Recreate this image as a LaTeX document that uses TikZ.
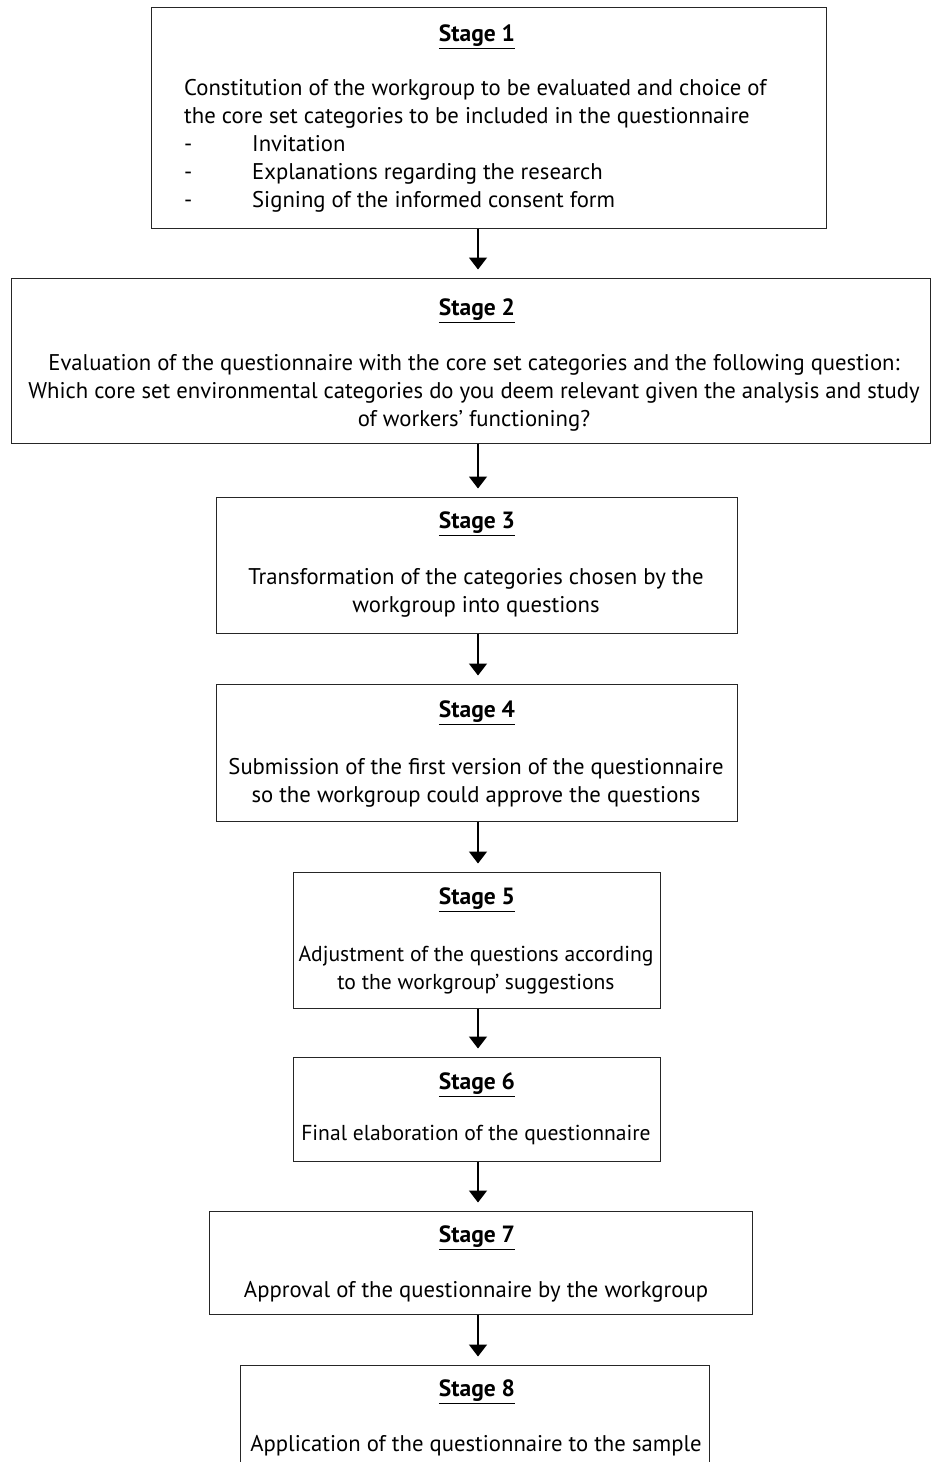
\documentclass[tikz,border=0pt]{standalone}
\usepackage{fontspec}
\setmainfont{PT Sans}
\usetikzlibrary{arrows.meta}
\tikzset{
  box/.style={draw=black!85, line width=1pt, rectangle, inner sep=0pt},
  ttl/.style={font=\fontsize{23.5}{28}\selectfont\bfseries, inner sep=0pt},
  body/.style={font=\fontsize{22.7}{28}\selectfont, align=center, inner sep=0pt},
  tight/.style={font=\fontsize{21.6}{28}\selectfont},
  arr/.style={line width=1.6pt, -{Triangle[width=18pt,length=12pt]}, shorten >=8pt},
}
\newcommand{\stg}[1]{\underline{#1}}
\begin{document}
\begin{tikzpicture}[x=1pt,y=-1pt]
\clip (0,0) rectangle (931,1462);
\fill[white] (0,0) rectangle (931,1462);
\coordinate (ax) at (478,0);
% boxes
\node[box, minimum width=675, minimum height=221] (s1) at (488.5,117.5) {};
\node[box, minimum width=919, minimum height=165] (s2) at (470.5,360.5) {};
\node[box, minimum width=521, minimum height=136] (s3) at (476.5,565) {};
\node[box, minimum width=521, minimum height=137] (s4) at (476.5,752.5) {};
\node[box, minimum width=367, minimum height=136] (s5) at (476.5,940) {};
\node[box, minimum width=367, minimum height=104] (s6) at (476.5,1109) {};
\node[box, minimum width=543, minimum height=103] (s7) at (480.5,1262.5) {};
\node[box, minimum width=469, minimum height=116] (s8) at (474.5,1423) {};
% titles
\node[ttl] (t1) at (477,37) {\stg{Stage 1}};
\node[ttl] (t2) at (477,311) {\stg{Stage 2}};
\node[ttl] (t3) at (477,524) {\stg{Stage 3}};
\node[ttl] (t4) at (477,713) {\stg{Stage 4}};
\node[ttl] (t5) at (477,900) {\stg{Stage 5}};
\node[ttl] (t6) at (477,1085) {\stg{Stage 6}};
\node[ttl] (t7) at (477,1238) {\stg{Stage 7}};
\node[ttl] (t8) at (477,1392) {\stg{Stage 8}};
% bodies
\node[body, align=left, anchor=west] (b1) at (184,146) {Constitution of the workgroup to be evaluated and choice of\\the core set categories to be included in the questionnaire\\\makebox[68pt][l]{-}Invitation\\\makebox[68pt][l]{-}Explanations regarding the research\\\makebox[68pt][l]{-}Signing of the informed consent form};
\node[body] (b2) at (474,393) {Evaluation of the questionnaire with the core set categories and the following question:\\Which core set environmental categories do you deem relevant given the analysis and study\\of workers’ functioning?};
\node[body] (b3) at (476,593) {Transformation of the categories chosen by the\\workgroup into questions};
\node[body] (b4) at (476,783) {Submission of the first version of the questionnaire\\so the workgroup could approve the questions};
\node[body, tight] (b5) at (476,970) {Adjustment of the questions according\\to the workgroup’ suggestions};
\node[body, tight] (b6) at (476,1135) {Final elaboration of the questionnaire};
\node[body] (b7) at (476,1292) {Approval of the questionnaire by the workgroup};
\node[body] (b8) at (476,1446) {Application of the questionnaire to the sample};
% arrows
\draw[arr] (s1.south -| ax) -- (s2.north -| ax);
\draw[arr] (s2.south -| ax) -- (s3.north -| ax);
\draw[arr] (s3.south -| ax) -- (s4.north -| ax);
\draw[arr] (s4.south -| ax) -- (s5.north -| ax);
\draw[arr] (s5.south -| ax) -- (s6.north -| ax);
\draw[arr] (s6.south -| ax) -- (s7.north -| ax);
\draw[arr] (s7.south -| ax) -- (s8.north -| ax);
\end{tikzpicture}
\end{document}
